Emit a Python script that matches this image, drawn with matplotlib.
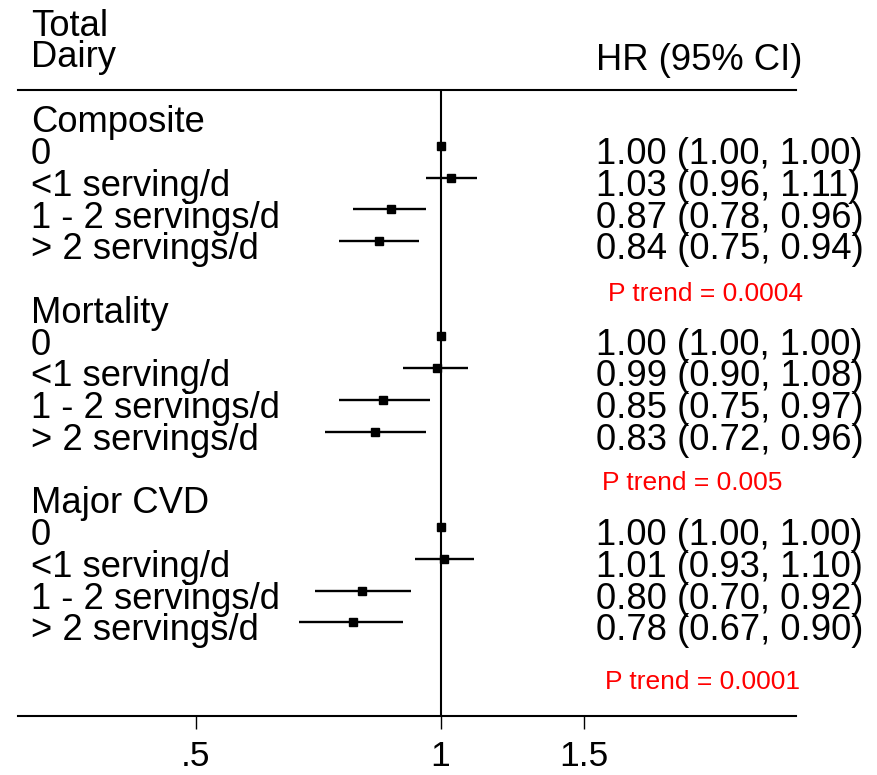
import numpy as np
import matplotlib
matplotlib.use("Agg")
import matplotlib.pyplot as plt
from matplotlib.transforms import blended_transform_factory

plt.rcParams['font.family'] = ['Liberation Sans', 'DejaVu Sans']

# Hazard ratios by total dairy intake
outcomes = ["Composite", "Mortality", "Major CVD"]
levels = ["0", "<1 serving/d", "1 - 2 servings/d", "> 2 servings/d"]

hr_composite = [1.00, 1.03, 0.87, 0.84]
lo_composite = [1.00, 0.96, 0.78, 0.75]
hi_composite = [1.00, 1.11, 0.96, 0.94]

hr_mortality = [1.00, 0.99, 0.85, 0.83]
lo_mortality = [1.00, 0.90, 0.75, 0.72]
hi_mortality = [1.00, 1.08, 0.97, 0.96]

hr_cvd = [1.00, 1.01, 0.80, 0.78]
lo_cvd = [1.00, 0.93, 0.70, 0.67]
hi_cvd = [1.00, 1.10, 0.92, 0.90]

p_trend = ["0.0004", "0.005", "0.0001"]

xticks = [0.5, 1.0, 1.5]
xtick_labels = [".5", "1", "1.5"]

groups = [
    (hr_composite, lo_composite, hi_composite),
    (hr_mortality, lo_mortality, hi_mortality),
    (hr_cvd, lo_cvd, hi_cvd),
]

W, H = 877, 775
fig = plt.figure(figsize=(W / 100, H / 100), dpi=100)
ax = fig.add_axes([18 / W, 59 / H, 778 / W, 626 / H])
ax.set_xscale('log')
ax.set_xlim(0.302, 2.738)
ax.set_ylim(18.95, -0.76)

big = 26.2
small = 19
tr = blended_transform_factory(ax.transAxes, ax.transData)
x_left = 0.0165
x_hr = 0.743
p_x = [0.758, 0.7506, 0.7545]
p_y = [5.87, 11.83, 18.1]
off = 0.57  # baseline offset below row centre

for k, (name, (hr, lo, hi)) in enumerate(zip(outcomes, groups)):
    base = 6 * k
    ax.text(x_left, base + off, name, transform=tr, fontsize=big,
            ha='left', va='baseline')
    for i, lab in enumerate(levels):
        r = base + 1 + i
        ax.plot([lo[i], hi[i]], [r, r], color='black', lw=1.7,
                solid_capstyle='butt', zorder=3)
        ax.plot(hr[i], r, marker='s', color='black', markersize=6.3,
                zorder=4)
        ax.text(x_left, r + off, lab, transform=tr, fontsize=big,
                ha='left', va='baseline')
        ax.text(x_hr, r + off, f"{hr[i]:.2f} ({lo[i]:.2f}, {hi[i]:.2f})",
                transform=tr, fontsize=big, ha='left', va='baseline')
    ax.text(p_x[k], p_y[k], f"P trend = {p_trend[k]}", transform=tr,
            fontsize=small, color='#ff0000', ha='left', va='baseline')

# Column headers above the top rule
ax.text(x_left, -2.47, "Total", transform=tr, fontsize=big,
        ha='left', va='baseline', clip_on=False)
ax.text(x_left, -1.49, "Dairy", transform=tr, fontsize=big,
        ha='left', va='baseline', clip_on=False)
ax.text(x_hr, -1.4, "HR (95% CI)", transform=tr, fontsize=big,
        ha='left', va='baseline', clip_on=False)

ax.axvline(1.0, color='black', lw=1.5, zorder=2)

for s in ['left', 'right']:
    ax.spines[s].set_visible(False)
for s in ['top', 'bottom']:
    ax.spines[s].set_linewidth(1.5)

ax.set_xticks(xticks)
ax.set_xticklabels(xtick_labels)
ax.xaxis.set_minor_locator(matplotlib.ticker.NullLocator())
ax.tick_params(axis='x', direction='out', length=9.5, width=1.0,
               labelsize=25.5, pad=8)
ax.set_yticks([])

fig.savefig("out.png", dpi=100)
